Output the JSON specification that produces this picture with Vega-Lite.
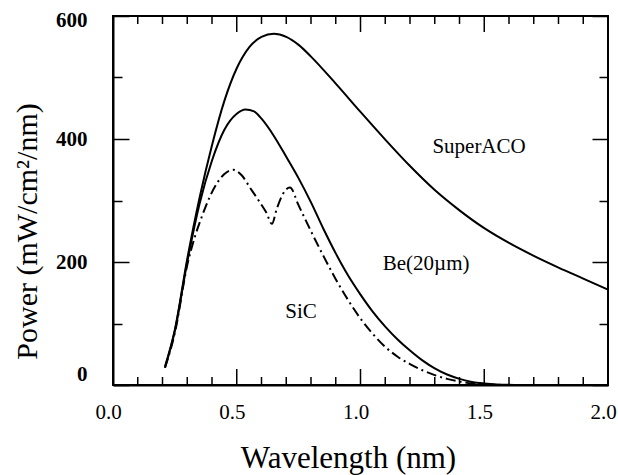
{
  "$schema": "https://vega.github.io/schema/vega-lite/v6.json",
  "width": 495,
  "height": 369,
  "autosize": {"type": "none"},
  "padding": {"left": 113, "top": 16, "right": 10, "bottom": 90},
  "background": "white",
  "config": {
    "view": {"stroke": "black", "strokeWidth": 2},
    "font": "Liberation Serif",
    "axis": {
      "grid": false,
      "domainColor": "black",
      "domainWidth": 2,
      "tickColor": "black",
      "tickWidth": 1.5,
      "labelFont": "Liberation Serif",
      "titleFont": "Liberation Serif",
      "labelColor": "black",
      "titleColor": "black"
    }
  },
  "datasets": {
    "majorTicks": [{"tick": 0.5}, {"tick": 1.0}, {"tick": 1.5}],
    "minorTicks": [
      {"tick": 0.1}, {"tick": 0.2}, {"tick": 0.3}, {"tick": 0.4}, {"tick": 0.6}, {"tick": 0.7}, {"tick": 0.8}, {"tick": 0.9},
      {"tick": 1.1}, {"tick": 1.2}, {"tick": 1.3}, {"tick": 1.4}, {"tick": 1.6}, {"tick": 1.7}, {"tick": 1.8}, {"tick": 1.9}
    ]
  },
  "layer": [
    {
      "data": {"values": [
        {"wavelength": 0.21, "power": 30}, {"wavelength": 0.25, "power": 90}, {"wavelength": 0.30, "power": 205},
        {"wavelength": 0.35, "power": 305}, {"wavelength": 0.40, "power": 390}, {"wavelength": 0.45, "power": 462},
        {"wavelength": 0.50, "power": 515}, {"wavelength": 0.55, "power": 549}, {"wavelength": 0.60, "power": 566},
        {"wavelength": 0.65, "power": 571}, {"wavelength": 0.70, "power": 566}, {"wavelength": 0.75, "power": 553},
        {"wavelength": 0.80, "power": 534}, {"wavelength": 0.90, "power": 490}, {"wavelength": 1.00, "power": 444},
        {"wavelength": 1.10, "power": 399}, {"wavelength": 1.20, "power": 356}, {"wavelength": 1.30, "power": 317},
        {"wavelength": 1.40, "power": 284}, {"wavelength": 1.50, "power": 255}, {"wavelength": 1.60, "power": 231},
        {"wavelength": 1.70, "power": 210}, {"wavelength": 1.80, "power": 191}, {"wavelength": 1.90, "power": 173},
        {"wavelength": 2.00, "power": 155}
      ]},
      "mark": {"type": "line", "color": "black", "strokeWidth": 2, "interpolate": "monotone"},
      "encoding": {
        "x": {
          "field": "wavelength", "type": "quantitative",
          "scale": {"domain": [0, 2], "nice": false, "zero": false},
          "axis": {
            "orient": "bottom", "values": [0, 0.5, 1, 1.5, 2], "labelExpr": "format(datum.value, '.1f')",
            "ticks": false, "labelPadding": 16, "labelFontSize": 21, "labelOffset": -5,
            "labelFlush": false, "labelOverlap": false,
            "title": "Wavelength (nm)", "titleFontSize": 31, "titleFontWeight": "normal",
            "titleX": 235, "titleY": 82, "titleBaseline": "alphabetic"
          }
        },
        "y": {
          "field": "power", "type": "quantitative",
          "scale": {"domain": [0, 600], "nice": false},
          "axis": {
            "orient": "left", "values": [0, 200, 400, 600],
            "ticks": false, "labelPadding": 26, "labelFontSize": 21, "labelFontWeight": "bold",
            "labelOffset": {"condition": [{"test": "datum.value == 0", "value": -11}, {"test": "datum.value == 600", "value": 4}], "value": 0},
            "labelFlush": false, "labelOverlap": false,
            "title": "Power (mW/cm²/nm)", "titleFontSize": 30, "titleFontWeight": "normal",
            "titleX": -77, "titleY": 215, "titleBaseline": "alphabetic", "titleAngle": -90
          }
        }
      }
    },
    {
      "data": {"values": [
        {"wavelength": 0.21, "power": 28}, {"wavelength": 0.25, "power": 88}, {"wavelength": 0.30, "power": 200},
        {"wavelength": 0.35, "power": 295}, {"wavelength": 0.40, "power": 365}, {"wavelength": 0.45, "power": 415},
        {"wavelength": 0.50, "power": 441}, {"wavelength": 0.535, "power": 448}, {"wavelength": 0.57, "power": 445},
        {"wavelength": 0.60, "power": 433}, {"wavelength": 0.65, "power": 405}, {"wavelength": 0.70, "power": 371},
        {"wavelength": 0.75, "power": 336}, {"wavelength": 0.80, "power": 297}, {"wavelength": 0.85, "power": 254},
        {"wavelength": 0.90, "power": 214}, {"wavelength": 0.95, "power": 178}, {"wavelength": 1.00, "power": 147},
        {"wavelength": 1.05, "power": 119}, {"wavelength": 1.10, "power": 95}, {"wavelength": 1.15, "power": 74},
        {"wavelength": 1.20, "power": 56}, {"wavelength": 1.25, "power": 40}, {"wavelength": 1.30, "power": 27},
        {"wavelength": 1.35, "power": 17}, {"wavelength": 1.40, "power": 10}, {"wavelength": 1.45, "power": 5},
        {"wavelength": 1.50, "power": 2.5}, {"wavelength": 1.55, "power": 1}, {"wavelength": 1.65, "power": 0}
      ]},
      "mark": {"type": "line", "color": "black", "strokeWidth": 2, "interpolate": "monotone"},
      "encoding": {
        "x": {"field": "wavelength", "type": "quantitative", "axis": null},
        "y": {
          "field": "power", "type": "quantitative",
          "axis": {
            "orient": "right", "offset": -495, "values": [0, 200, 400, 600],
            "tickSize": 16, "labels": false, "domain": false, "title": null
          }
        }
      }
    },
    {
      "data": {"values": [
        {"wavelength": 0.21, "power": 28}, {"wavelength": 0.25, "power": 85}, {"wavelength": 0.30, "power": 195},
        {"wavelength": 0.33, "power": 240}, {"wavelength": 0.36, "power": 275}, {"wavelength": 0.39, "power": 305},
        {"wavelength": 0.42, "power": 328}, {"wavelength": 0.45, "power": 343}, {"wavelength": 0.485, "power": 350},
        {"wavelength": 0.52, "power": 341}, {"wavelength": 0.555, "power": 320}, {"wavelength": 0.595, "power": 296},
        {"wavelength": 0.62, "power": 280}, {"wavelength": 0.642, "power": 262}, {"wavelength": 0.662, "power": 287},
        {"wavelength": 0.687, "power": 311}, {"wavelength": 0.715, "power": 321}, {"wavelength": 0.75, "power": 292},
        {"wavelength": 0.80, "power": 250}, {"wavelength": 0.85, "power": 210}, {"wavelength": 0.90, "power": 172},
        {"wavelength": 0.95, "power": 138}, {"wavelength": 1.00, "power": 108}, {"wavelength": 1.05, "power": 83},
        {"wavelength": 1.10, "power": 62}, {"wavelength": 1.15, "power": 46}, {"wavelength": 1.20, "power": 34},
        {"wavelength": 1.25, "power": 24}, {"wavelength": 1.30, "power": 16}, {"wavelength": 1.35, "power": 10},
        {"wavelength": 1.40, "power": 5.5}, {"wavelength": 1.45, "power": 2.5}, {"wavelength": 1.50, "power": 1},
        {"wavelength": 1.60, "power": 0}
      ]},
      "mark": {"type": "line", "color": "black", "strokeWidth": 2, "strokeDash": [10, 4, 2, 4], "interpolate": "monotone"},
      "encoding": {
        "x": {"field": "wavelength", "type": "quantitative", "axis": null},
        "y": {
          "field": "power", "type": "quantitative",
          "axis": {
            "orient": "right", "offset": -495, "values": [100, 300, 500],
            "tickSize": 9, "labels": false, "domain": false, "title": null
          }
        }
      }
    },
    {
      "data": {"values": [
        {"text": "SuperACO", "wavelength": 1.479, "power": 377}
      ]},
      "mark": {"type": "text", "color": "black", "font": "Liberation Serif", "fontSize": 21, "align": "center", "baseline": "alphabetic"},
      "encoding": {
        "text": {"field": "text", "type": "nominal"},
        "x": {"field": "wavelength", "type": "quantitative", "axis": null},
        "y": {
          "field": "power", "type": "quantitative",
          "axis": {
            "orient": "left", "offset": -495, "values": [0, 200, 400, 600],
            "tickSize": 16, "labels": false, "domain": false, "title": null
          }
        }
      }
    },
    {
      "data": {"values": [
        {"text": "Be(20µm)", "wavelength": 1.265, "power": 187},
        {"text": "SiC", "wavelength": 0.76, "power": 109}
      ]},
      "mark": {"type": "text", "color": "black", "font": "Liberation Serif", "fontSize": 21, "align": "center", "baseline": "alphabetic"},
      "encoding": {
        "text": {"field": "text", "type": "nominal"},
        "x": {"field": "wavelength", "type": "quantitative", "axis": null},
        "y": {
          "field": "power", "type": "quantitative",
          "axis": {
            "orient": "left", "offset": -495, "values": [100, 300, 500],
            "tickSize": 9, "labels": false, "domain": false, "title": null
          }
        }
      }
    },
    {
      "data": {"name": "majorTicks"},
      "mark": {"type": "rule", "color": "black", "strokeWidth": 1.5},
      "encoding": {
        "x": {"field": "tick", "type": "quantitative", "axis": null},
        "y": {"datum": 0, "type": "quantitative", "axis": null},
        "y2": {"datum": 26}
      }
    },
    {
      "data": {"name": "majorTicks"},
      "mark": {"type": "rule", "color": "black", "strokeWidth": 1.5},
      "encoding": {
        "x": {"field": "tick", "type": "quantitative", "axis": null},
        "y": {"datum": 574, "type": "quantitative", "axis": null},
        "y2": {"datum": 600}
      }
    },
    {
      "data": {"name": "minorTicks"},
      "mark": {"type": "rule", "color": "black", "strokeWidth": 1.5},
      "encoding": {
        "x": {"field": "tick", "type": "quantitative", "axis": null},
        "y": {"datum": 0, "type": "quantitative", "axis": null},
        "y2": {"datum": 13}
      }
    },
    {
      "data": {"name": "minorTicks"},
      "mark": {"type": "rule", "color": "black", "strokeWidth": 1.5},
      "encoding": {
        "x": {"field": "tick", "type": "quantitative", "axis": null},
        "y": {"datum": 587, "type": "quantitative", "axis": null},
        "y2": {"datum": 600}
      }
    }
  ],
  "resolve": {"axis": {"x": "independent", "y": "independent"}}
}
